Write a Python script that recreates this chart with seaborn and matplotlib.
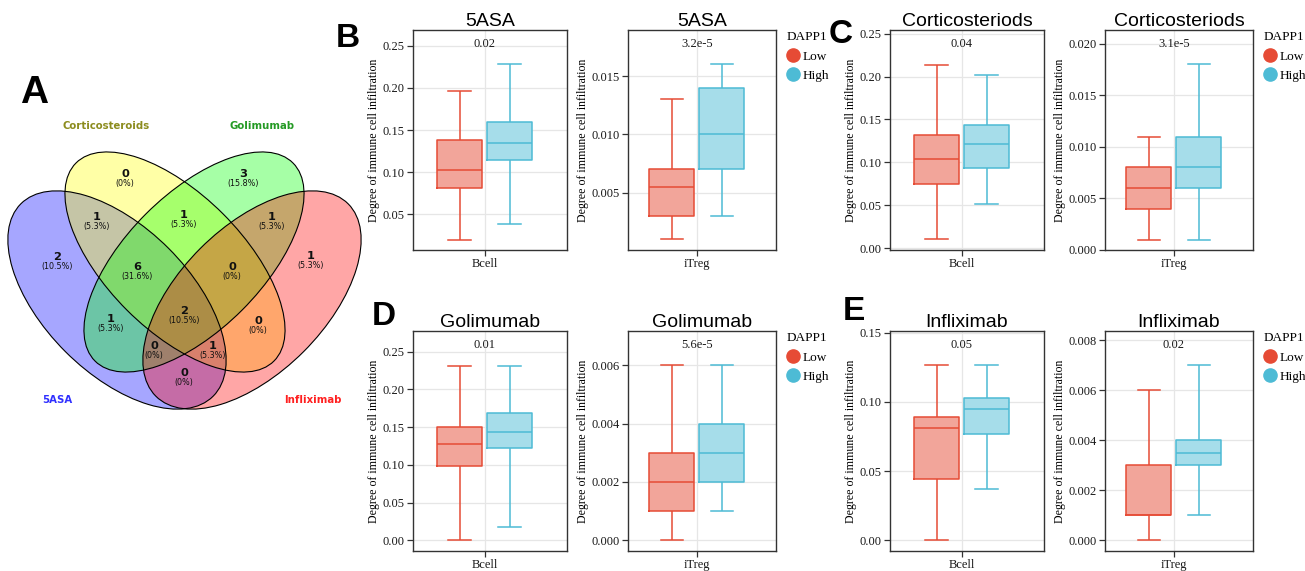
import numpy as np
import pandas as pd
import seaborn as sns
import matplotlib.pyplot as plt
from matplotlib.patches import Ellipse
from matplotlib.lines import Line2D

# ---------------- panel A: Venn counts ----------------
venn_sets = ['5ASA', 'Corticosteroids', 'Golimumab', 'Infliximab']
venn_fill = ['#0000FF', '#FFFF00', '#00FF00', '#FF0000']
venn_text_colors = ['#3030FF', '#8C8C1E', '#249A24', '#FF2020']
venn_regions = ['C', 'G', 'A&C', 'C&G', 'G&I', 'A', 'A&C&G', 'C&G&I', 'I',
                'A&G', 'A&C&G&I', 'C&I', 'A&G&I', 'A&C&I', 'A&I']
venn_counts = [0, 3, 1, 1, 1, 2, 6, 0, 1, 1, 2, 0, 0, 1, 0]

# ---------------- panels B-E: five-number summaries ----------------
drugs = ['5ASA', 'Corticosteriods', 'Golimumab', 'Infliximab']
cells = ['Bcell', 'iTreg']
groups = ['Low', 'High']
# [min, q1, median, q3, max]
asa_bcell_low = [0.020, 0.081, 0.102, 0.138, 0.196]
asa_bcell_high = [0.038, 0.114, 0.134, 0.159, 0.228]
asa_itreg_low = [0.001, 0.003, 0.0055, 0.007, 0.013]
asa_itreg_high = [0.003, 0.007, 0.010, 0.014, 0.016]
cort_bcell_low = [0.010, 0.075, 0.104, 0.132, 0.214]
cort_bcell_high = [0.051, 0.093, 0.121, 0.143, 0.202]
cort_itreg_low = [0.001, 0.004, 0.006, 0.008, 0.011]
cort_itreg_high = [0.001, 0.006, 0.008, 0.011, 0.018]
goli_bcell_low = [0.000, 0.098, 0.127, 0.150, 0.231]
goli_bcell_high = [0.017, 0.122, 0.144, 0.169, 0.231]
goli_itreg_low = [0.000, 0.001, 0.002, 0.003, 0.006]
goli_itreg_high = [0.001, 0.002, 0.003, 0.004, 0.006]
infl_bcell_low = [0.000, 0.0445, 0.081, 0.089, 0.127]
infl_bcell_high = [0.037, 0.077, 0.095, 0.103, 0.127]
infl_itreg_low = [0.000, 0.001, 0.001, 0.003, 0.006]
infl_itreg_high = [0.001, 0.003, 0.0035, 0.004, 0.007]
p_values = ['0.02', '3.2e-5', '0.04', '3.1e-5', '0.01', '5.6e-5', '0.05', '0.02']

line_colors = {'Low': '#E64B35', 'High': '#4DBBD5'}
fill_colors = {'Low': '#F2A59A', 'High': '#A6DDEA'}

W, H = 1305, 571
fig = plt.figure(figsize=(W / 100, H / 100), dpi=100)
plt.rcParams['font.family'] = ['Liberation Serif', 'DejaVu Serif']


def px_axes(left, top, right, bottom):
    return fig.add_axes([left / W, (H - bottom) / H, (right - left) / W, (bottom - top) / H])


# ---------------- Venn ----------------
va = px_axes(0, 0, 380, H)
va.set_xlim(0, 380)
va.set_ylim(H, 0)
va.axis('off')
ell_geom = [((117, 300), 136, 73, 45), ((175, 262), 140, 68, 45),
            ((194, 262), 140, 68, -45), ((252, 300), 136, 73, -45)]
for (c, a, b, ang), col in zip(ell_geom, venn_fill):
    va.add_patch(Ellipse(c, 2 * a, 2 * b, angle=ang, facecolor=col, alpha=0.35, edgecolor='none'))
for (c, a, b, ang) in ell_geom:
    va.add_patch(Ellipse(c, 2 * a, 2 * b, angle=ang, facecolor='none', edgecolor='black', lw=0.8))

region_xy = [(125, 175), (243, 175), (97, 218), (184, 216), (272, 218), (57, 258),
             (137, 268), (232, 268), (311, 257), (111, 320), (184, 312), (258, 322),
             (154, 347), (213, 347), (184, 374)]
total = sum(venn_counts)
for (x, y), n in zip(region_xy, venn_counts):
    va.text(x, y - 1, str(n), ha='center', va='center', fontsize=8.2, fontweight='bold',
            family='DejaVu Sans', color='#111111')
    va.text(x, y + 8.5, f'({n / total * 100:.1f}%)'.replace('(0.0%)', '(0%)'),
            ha='center', va='center', fontsize=5.8, family='DejaVu Sans', color='#111111')

set_label_xy = [(57, 400), (106, 126), (262, 126), (313, 400)]
for (x, y), name, col in zip(set_label_xy, venn_sets, venn_text_colors):
    va.text(x, y, name, ha='center', va='center', fontsize=7.3, fontweight='bold',
            family='DejaVu Sans', color=col)

# ---------------- boxplots ----------------
panels = [
    (drugs[0], cells[0], asa_bcell_low, asa_bcell_high),
    (drugs[0], cells[1], asa_itreg_low, asa_itreg_high),
    (drugs[1], cells[0], cort_bcell_low, cort_bcell_high),
    (drugs[1], cells[1], cort_itreg_low, cort_itreg_high),
    (drugs[2], cells[0], goli_bcell_low, goli_bcell_high),
    (drugs[2], cells[1], goli_itreg_low, goli_itreg_high),
    (drugs[3], cells[0], infl_bcell_low, infl_bcell_high),
    (drugs[3], cells[1], infl_itreg_low, infl_itreg_high),
]
rects = [(413, 30, 567, 250), (628, 30, 776, 250), (890, 30, 1044, 250), (1105, 30, 1253, 250),
         (413, 331, 567, 551), (628, 331, 776, 551), (890, 331, 1044, 551), (1105, 331, 1253, 551)]
ylims = [(0.0077, 0.2686), (0.0001, 0.01894), (-0.0023, 0.2543), (0.0, 0.02133),
         (-0.0142, 0.2773), (-0.000366, 0.007174), (-0.0077, 0.1512), (-0.00043, 0.00837)]
yticks = [np.arange(0.05, 0.26, 0.05), [0.005, 0.010, 0.015], np.arange(0, 0.26, 0.05),
          np.arange(0, 0.0201, 0.005), np.arange(0, 0.26, 0.05), np.arange(0, 0.0061, 0.002),
          np.arange(0, 0.151, 0.05), np.arange(0, 0.0081, 0.002)]
fmts = ['{:.2f}', '{:.3f}', '{:.2f}', '{:.3f}', '{:.2f}', '{:.3f}', '{:.2f}', '{:.3f}']

for i, (drug, cell, lo, hi) in enumerate(panels):
    l, t, r, b = rects[i]
    ax = px_axes(l, t, r, b)
    df = pd.DataFrame({'cell': cell, 'DAPP1': ['Low'] * 5 + ['High'] * 5, 'value': lo + hi})
    sns.boxplot(data=df, x='cell', y='value', hue='DAPP1', hue_order=groups,
                palette=fill_colors, saturation=1, whis=(0, 100), width=0.8, gap=0.1,
                linewidth=0, showfliers=False, legend=False, ax=ax)
    sns.boxplot(data=df, x='cell', y='value', hue='DAPP1', hue_order=groups,
                palette=line_colors, saturation=1, fill=False, whis=(0, 100), width=0.8,
                gap=0.1, linewidth=1.1, showfliers=False, legend=False, ax=ax)
    wpx = r - l
    ax.set_xlim(-0.465 * wpx / 125, 0.535 * wpx / 125)
    ax.set_ylim(*ylims[i])
    ax.set_yticks(yticks[i])
    ax.set_yticklabels([fmts[i].format(v) for v in yticks[i]])
    ax.set_xlabel('')
    ax.set_ylabel('Degree of immune cell infiltration', fontsize=8.6, labelpad=2)
    ax.set_title(drug, family='Liberation Sans', fontsize=14, pad=2.5)
    ax.grid(True, color='#E6E6E6', linewidth=0.9)
    ax.set_axisbelow(True)
    for s in ax.spines.values():
        s.set_visible(True)
        s.set_color('#333333')
        s.set_linewidth(1.0)
    ax.tick_params(direction='out', length=4, width=0.9, color='#333333',
                   labelsize=9, labelcolor='#1a1a1a', pad=2)
    ax.text(0, 0.936, p_values[i], transform=ax.get_xaxis_transform(),
            ha='center', va='center', fontsize=9, color='#1a1a1a')
    if i % 2 == 1:
        handles = [Line2D([], [], ls='none', marker='o', markersize=9.5,
                          color=line_colors[g]) for g in groups]
        ax.legend(handles, groups, title='DAPP1', loc='upper left',
                  bbox_to_anchor=(1.072, 0.995), frameon=False, borderpad=0,
                  borderaxespad=0, handlelength=1.0, handletextpad=0.2,
                  labelspacing=0.55, fontsize=9.5, title_fontsize=9.5,
                  alignment='left')

# panel letters
for letter, (x, y, size) in zip('ABCDE', [(20, 103, 28), (336, 47, 24), (829, 43, 24),
                                           (372, 325, 24), (843, 320, 24)]):
    fig.text(x / W, (H - y) / H, letter, fontsize=size, fontweight='bold',
             family='Liberation Sans', ha='left', va='baseline')

fig.savefig('out.png', dpi=100)
